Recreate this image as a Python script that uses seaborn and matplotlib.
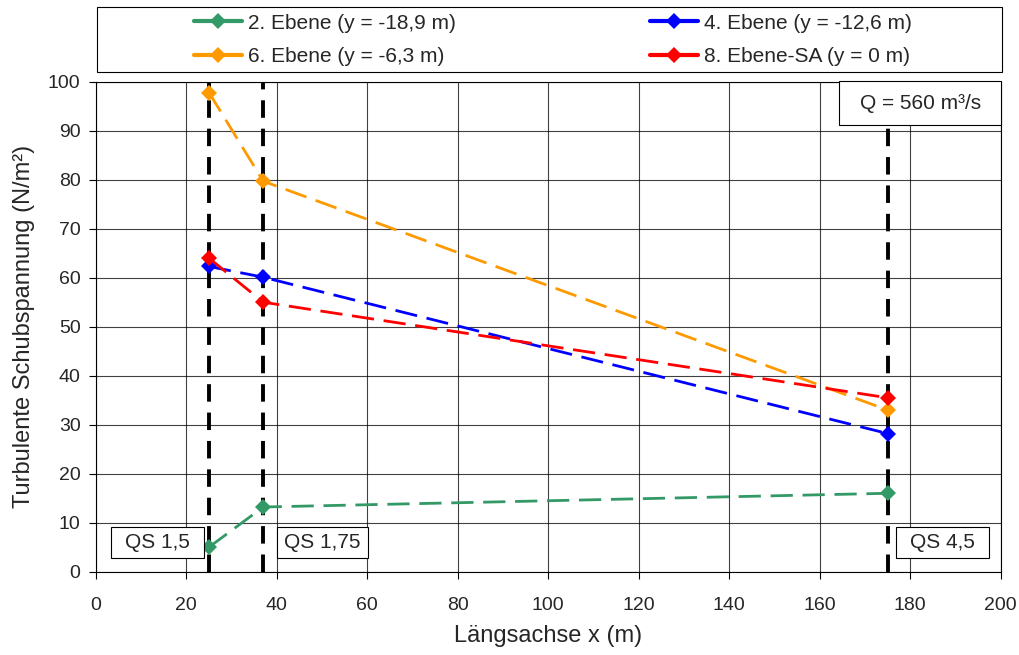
import pandas as pd
import numpy as np
import matplotlib
matplotlib.use('Agg')
import matplotlib.pyplot as plt
from matplotlib.patches import Rectangle
import seaborn as sns

# data
x_pos = [25, 37, 175]
ebene2 = [5.0, 13.2, 16.0]
ebene4 = [62.3, 60.1, 28.2]
ebene6 = [97.8, 79.7, 33.0]
ebene8 = [64.0, 55.0, 35.5]
labels = ['2. Ebene (y = -18,9 m)', '4. Ebene (y = -12,6 m)',
          '6. Ebene (y = -6,3 m)', '8. Ebene-SA (y = 0 m)']
colors = ['#339966', '#0000FF', '#FF9900', '#FF0000']
qs_x = [25, 37, 175]
qs_labels = ['QS 1,5', 'QS 1,75', 'QS 4,5']

rows = []
for lab, vals in zip(labels, [ebene2, ebene4, ebene6, ebene8]):
    for xv, yv in zip(x_pos, vals):
        rows.append({'x': xv, 'y': yv, 'Serie': lab})
df = pd.DataFrame(rows)

sns.set_style('white')
plt.rcParams['font.family'] = ['Liberation Sans', 'DejaVu Sans']

fig = plt.figure(figsize=(10.2, 6.55), dpi=100)
ax = fig.add_axes([0.094, 0.1272, 0.887, 0.748])

# vertical section markers
for xv in qs_x:
    ax.axvline(xv, color='black', lw=2.8, ls=(0, (4.5, 2.8)), zorder=2)

sns.lineplot(data=df, x='x', y='y', hue='Serie', palette=colors, ax=ax,
             marker='D', markersize=8.5, markeredgewidth=0, lw=2,
             dashes=False, legend=False, zorder=3)
for line in ax.get_lines()[len(qs_x):]:
    line.set_dashes([8, 3.5])

ax.set_xlim(0, 200)
ax.set_ylim(0, 100)
ax.set_xticks(np.arange(0, 201, 20))
ax.set_yticks(np.arange(0, 101, 10))
ax.grid(True, color='black', lw=0.8, alpha=0.75)
ax.set_axisbelow(True)
for sp in ax.spines.values():
    sp.set_color('black')
    sp.set_linewidth(0.8)
ax.tick_params(axis='both', labelsize=14, direction='out', length=5,
               width=0.8, color='black', bottom=True, left=True)
ax.tick_params(axis='x', pad=13)
ax.tick_params(axis='y', pad=6)
ax.set_xlabel('Längsachse x (m)', fontsize=17, labelpad=8)
ax.set_ylabel('Turbulente Schubspannung (N/m²)', fontsize=17, labelpad=9)

# section labels with boxes (data coords: x0, x1, y0, y1)
qs_boxes = [(3.4, 23.9, 2.7, 9.1), (40.0, 60.2, 2.7, 9.1), (176.9, 197.5, 2.7, 9.1)]
for (x0, x1, y0, y1), lab in zip(qs_boxes, qs_labels):
    ax.add_patch(Rectangle((x0, y0), x1 - x0, y1 - y0, fc='white', ec='black',
                           lw=0.8, zorder=4))
    ax.text((x0 + x1) / 2, (y0 + y1) / 2, lab, ha='center', va='center',
            fontsize=15, zorder=5)

ax.add_patch(Rectangle((0.8215, 0.912), 0.1785, 0.089, transform=ax.transAxes,
                       fc='white', ec='black', lw=0.8, zorder=4, clip_on=False))
ax.text(0.911, 0.9565, 'Q = 560 m³/s', transform=ax.transAxes, ha='center',
        va='center', fontsize=15, zorder=5)

# legend with its own frame across the top (row order as in the original)
fig.patches.append(Rectangle((97 / 1020, 1 - 72 / 655), 905 / 1020, 65 / 655,
                             transform=fig.transFigure, fc='white', ec='black',
                             lw=0.8))
handles = [plt.Line2D([], [], color=c, lw=3, marker='D', markersize=8,
                      markeredgewidth=0) for c in colors]
order = [0, 2, 1, 3]
fig.legend([handles[i] for i in order], [labels[i] for i in order], ncol=2,
           loc='center', bbox_to_anchor=(553 / 1020, 1 - 40 / 655),
           fontsize=15, frameon=False, handlelength=2.3, handletextpad=0.3,
           columnspacing=9.3, labelspacing=0.7, borderpad=0)

fig.savefig('out.png', dpi=100)
